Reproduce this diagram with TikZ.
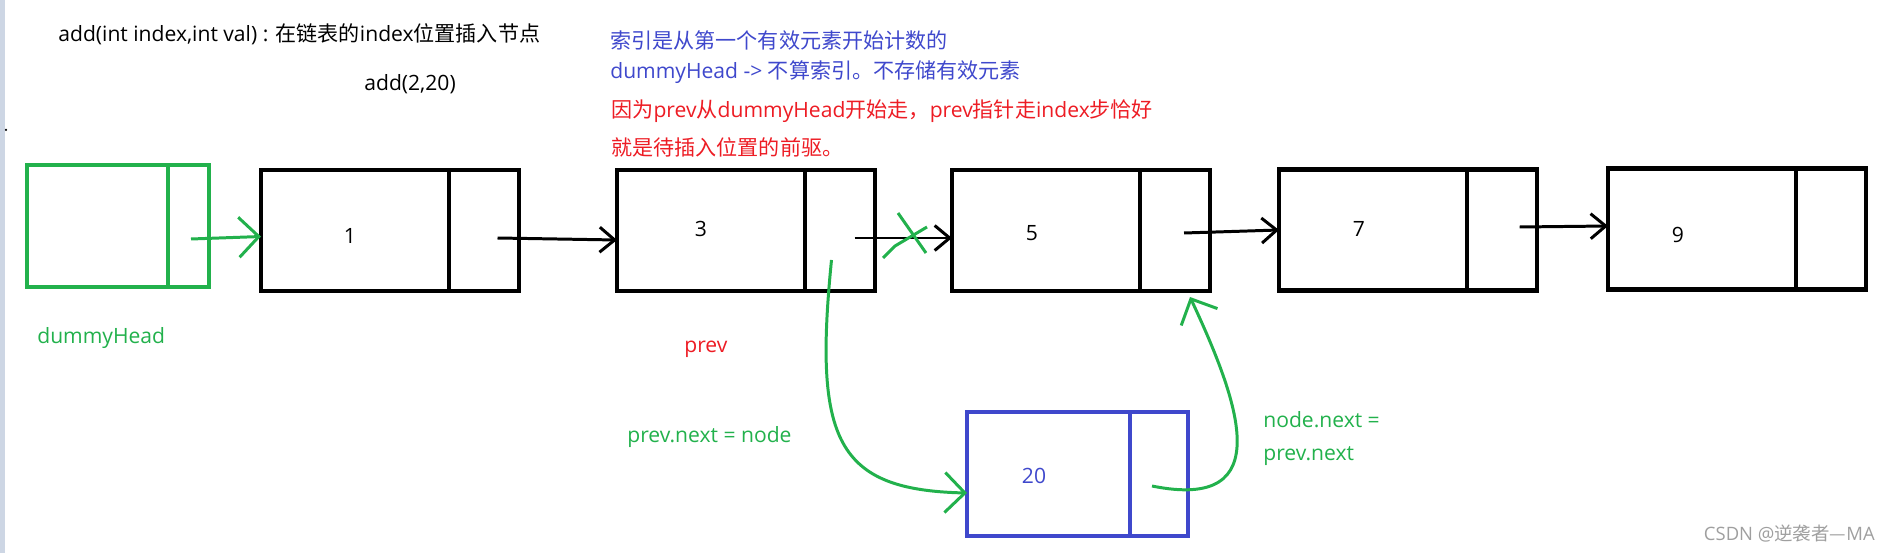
\documentclass[tikz,border=0pt]{standalone}
\usepackage{fontspec}
\setmainfont{Open Sans}
\newfontfamily\cjk{Noto Sans CJK SC}
\usetikzlibrary{arrows.meta,positioning}
\definecolor{paintgreen}{HTML}{22B14C}
\definecolor{paintblue}{HTML}{3F48CC}
\definecolor{paintred}{HTML}{ED1C24}
\definecolor{edgegray}{HTML}{CDD6E4}

\begin{document}
\begin{tikzpicture}[cell/.style={draw,line width=2.4pt,minimum height=2.42cm,inner sep=0,outer sep=0},data/.style={cell,minimum width=3.76cm},ptr/.style={cell,minimum width=1.4cm},txt/.style={anchor=west,inner sep=0,font=\fontsize{12}{14}\selectfont},num/.style={inner sep=0,font=\fontsize{12}{14}\selectfont},a/.style={-{Straight Barb[length=3mm,width=5mm]},line width=1.7pt},ga/.style={a,draw=paintgreen,-{Straight Barb[length=4mm,width=8mm]}}]
\useasboundingbox (0,0) rectangle (37.82,-11.06);
\fill[edgegray] (0,0) rectangle (0.1,-11.06);
\fill (0.12,-2.6) circle (0.025);
% notes on top
\node[txt] (sig) at (1.16,-0.68) {add(int index,int val) : {\cjk 在链表的}index{\cjk 位置插入节点}};
\node[txt] (call) at (7.28,-1.68) {add(2,20)};
\node[txt,text=paintblue] (note1) at (12.2,-0.80) {\cjk 索引是从第一个有效元素开始计数的};
\node[txt,text=paintblue] (note2) at (12.2,-1.44) {dummyHead -> {\cjk 不算索引。不存储有效元素}};
\node[txt,text=paintred] (note3) at (12.22,-2.22) {{\cjk 因为}prev{\cjk 从}dummyHead{\cjk 开始走，}prev{\cjk 指针走}index{\cjk 步恰好}};
\node[txt,text=paintred] (note4) at (12.22,-2.94) {\cjk 就是待插入位置的前驱。};
% the list
\node[data,draw=paintgreen,minimum width=2.82cm,minimum height=2.44cm] (d0) at (1.95,-4.52) {};
\node[ptr,draw=paintgreen,minimum width=0.82cm,minimum height=2.44cm,right=0pt of d0] (p0) {};
\node[data] (d1) at (7.10,-4.61) {};
\node[ptr,right=0pt of d1] (p1) {};
\node[data] (d3) at (14.22,-4.61) {};
\node[ptr,right=0pt of d3] (p3) {};
\node[data] (d5) at (20.92,-4.61) {};
\node[ptr,right=0pt of d5] (p5) {};
\node[data] (d7) at (27.46,-4.60) {};
\node[ptr,right=0pt of d7] (p7) {};
\node[data] (d9) at (34.04,-4.58) {};
\node[ptr,right=0pt of d9] (p9) {};
\node[num] (v1) at (7.0,-4.72) {1};
\node[num] (v3) at (14.02,-4.58) {3};
\node[num] (v5) at (20.64,-4.66) {5};
\node[num] (v7) at (27.18,-4.58) {7};
\node[num] (v9) at (33.56,-4.70) {9};
% new node
\node[data,draw=paintblue,minimum width=3.26cm,minimum height=2.48cm] (d20) at (20.97,-9.48) {};
\node[ptr,draw=paintblue,minimum width=1.16cm,minimum height=2.48cm,right=0pt of d20] (p20) {};
\node[num,text=paintblue] (v20) at (20.68,-9.52) {20};
% labels
\node[txt,text=paintgreen] (dlabel) at (0.74,-6.76) {dummyHead};
\node[txt,text=paintred] (prevlabel) at (13.68,-6.98) {prev};
\node[txt,text=paintgreen] (link1) at (12.54,-8.74) {prev.next = node};
\node[txt,text=paintgreen] (link2) at (25.26,-8.40) {node.next =};
\node[txt,text=paintgreen] (link3) at (25.26,-9.12) {prev.next};
\node[anchor=east,inner sep=0,text=gray!75,font=\fontsize{10.5}{12}\selectfont] (mark) at (37.5,-10.68) {CSDN @{\cjk 逆袭者—}MA};
% next pointers
\draw[ga] ([shift={(0.05,-0.26)}]p0.center) -- ([yshift=-0.12cm]d1.west);
\draw[a] ([shift={(0.27,-0.15)}]p1.center) -- ([yshift=-0.19cm]d3.west);
\draw[a] ([shift={(0.29,-0.15)}]p3.center) -- ([yshift=-0.15cm]d5.west);
\draw[a] ([shift={(0.18,-0.05)}]p5.center) -- (d7.west);
\draw[a] ([shift={(0.35,0.06)}]p7.center) -- ([yshift=0.06cm]d9.west);
% crossed out link
\draw[paintgreen,line width=1.7pt] (17.96,-4.26) -- (18.52,-5.06);
\draw[paintgreen,line width=1.7pt] (17.66,-5.16) -- (17.9,-4.92) -- (18.54,-4.54);
% relinking
\draw[ga] ([shift={(-0.17,-0.59)}]p3.center) .. controls +(-0.36,-3.6) and +(-2.62,0.06) .. ([yshift=-0.38cm]d20.west);
\draw[ga] ([shift={(-0.14,-0.24)}]p20.center) .. controls +(2.56,-0.52) and +(0.96,-2.06) .. ([shift={(0.3,-0.12)}]p5.south);
\end{tikzpicture}
\end{document}
